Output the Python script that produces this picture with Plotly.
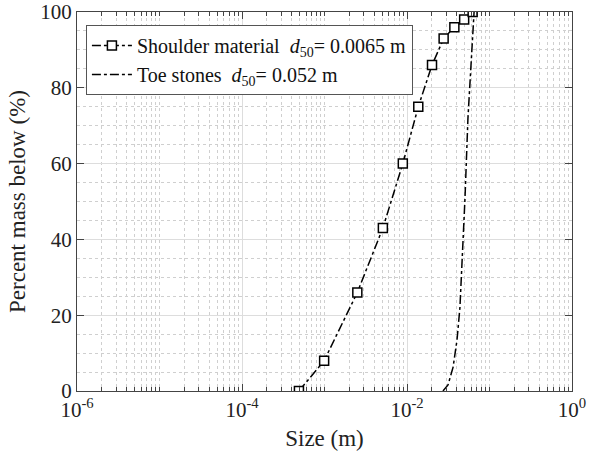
import plotly.graph_objects as go

# Data
shoulder_size = [0.00049, 0.00099, 0.0025, 0.0051, 0.0089, 0.0137, 0.0201, 0.0278, 0.0375, 0.0493, 0.0625]
shoulder_pct = [0, 8, 26, 43, 60, 75, 86, 93, 96, 98, 100]

toe_size = [0.0273, 0.0314, 0.0362, 0.0404, 0.0438, 0.0464, 0.0491, 0.0505, 0.0548, 0.0614, 0.065]
toe_pct = [0, 1.6, 6.3, 13.5, 22, 33, 46, 51, 72, 90, 100]

x_tickvals = [1e-6, 1e-4, 1e-2, 1e0]
x_ticktext = ["10<sup>-6</sup>", "10<sup>-4</sup>", "10<sup>-2</sup>", "10<sup>0</sup>"]
y_tickvals = [0, 20, 40, 60, 80, 100]

shoulder_name = "Shoulder material  <i>d</i><sub>50</sub>= 0.0065 m"
toe_name = "Toe stones  <i>d</i><sub>50</sub>= 0.052 m"

# minor tick positions (every digit of every decade except the labelled majors)
minor_vals = []
for e in range(-6, 0):
    for k in range(1, 10):
        v = k * 10.0 ** e
        if not (k == 1 and e % 2 == 0):
            minor_vals.append(v)

FONT = "Liberation Serif"

fig = go.Figure()
fig.add_trace(go.Scatter(
    x=shoulder_size, y=shoulder_pct, mode="lines+markers", name=shoulder_name,
    line=dict(color="black", width=1.5, dash="dashdot"),
    marker=dict(symbol="square", size=9, color="white", line=dict(color="black", width=1.5)),
))
fig.add_trace(go.Scatter(
    x=toe_size, y=toe_pct, mode="lines", name=toe_name,
    line=dict(color="black", width=1.5, dash="dashdot"),
))

fig.update_layout(
    width=589, height=458,
    margin=dict(l=77, r=17, t=12, b=67, autoexpand=False),
    paper_bgcolor="white", plot_bgcolor="white",
    font=dict(family=FONT, size=20, color="#222"),
    showlegend=True,
    legend=dict(
        x=0.018, y=0.966, xanchor="left", yanchor="top",
        bgcolor="white", bordercolor="#555", borderwidth=1,
        font=dict(family=FONT, size=20, color="#111"),
        itemwidth=40, tracegroupgap=0,
    ),
    xaxis=dict(
        type="log", range=[-6, 0], automargin=False,
        tickmode="array", tickvals=x_tickvals, ticktext=x_ticktext,
        ticks="inside", ticklen=7, tickcolor="#444",
        showline=True, linecolor="#444", linewidth=1, mirror="allticks",
        showgrid=True, gridcolor="#dddddd", gridwidth=1,
        zeroline=False,
        tickfont=dict(family=FONT, size=21, color="#222"),
        title=dict(text="Size (m)", font=dict(family=FONT, size=23, color="#222"), standoff=8),
        minor=dict(tickmode="array", tickvals=minor_vals, ticks="inside", ticklen=4,
                   tickcolor="#444", showgrid=True, gridcolor="#cfcfcf", griddash="dot", gridwidth=1),
    ),
    yaxis=dict(
        range=[0, 100], automargin=False,
        tickmode="array", tickvals=y_tickvals,
        ticks="inside", ticklen=7, tickcolor="#444",
        showline=True, linecolor="#444", linewidth=1, mirror="allticks",
        showgrid=True, gridcolor="#dddddd", gridwidth=1,
        zeroline=False,
        tickfont=dict(family=FONT, size=21, color="#222"),
        title=dict(text="Percent mass below (%)", font=dict(family=FONT, size=23, color="#222"), standoff=8),
        minor=dict(dtick=5, ticks="", showgrid=True, gridcolor="#cfcfcf", griddash="dot", gridwidth=1),
    ),
)

fig.write_html("out.html", config={"displayModeBar": False},
               post_script="document.body.style.margin='0';")
